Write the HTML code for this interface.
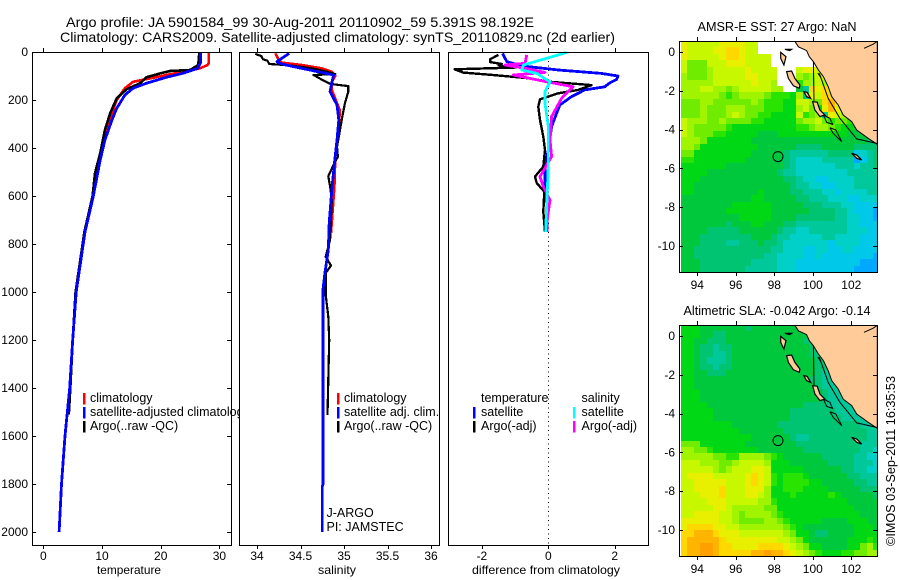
<!DOCTYPE html>
<html>
<head>
<meta charset="utf-8">
<title>Argo profile</title>
<style>
html,body{margin:0;padding:0;background:#fff;}
svg{display:block;}
text{font-family:"Liberation Sans",sans-serif;font-size:12px;fill:#000;}
.crisp{shape-rendering:crispEdges;}
</style>
</head>
<body>
<svg id="chart" width="900" height="580" viewBox="0 0 900 580" xmlns="http://www.w3.org/2000/svg">
  <rect x="0" y="0" width="900" height="580" fill="#fff"/>
  <text x="66" y="27" style="font-size:14px" textLength="468" lengthAdjust="spacingAndGlyphs">Argo profile: JA 5901584_99 30-Aug-2011 20110902_59 5.391S 98.192E</text>
  <text x="60" y="42" style="font-size:14px" textLength="555" lengthAdjust="spacingAndGlyphs">Climatology: CARS2009. Satellite-adjusted climatology: synTS_20110829.nc (2d earlier)</text>
  <g id="p1"></g>
  <g id="p2"></g>
  <g id="p3"></g>
  <g id="m1"></g>
  <g id="m2"></g>
  <text transform="translate(895,546) rotate(-90)" x="0" y="0" style="font-size:13px" textLength="170" lengthAdjust="spacingAndGlyphs">©IMOS 03-Sep-2011 16:35:53</text>
</svg>
<script>
// ---------- profile data (depth in dbar, values in physical units) ----------
const tempClimDepth = [0,46,54,68,79,96,113,124,151,200,255,338,437,562,750];
const tempClimValue = [28.2,28.2,28,26.7,24.4,21,17.6,15.3,13.9,12.5,11.7,10.5,9.7,8.8,7.1];
const tempSatDepth = [0,45,68,88,105,130,151,179,235,283,367,450,603,750,1000,1200,1400,1600,1800,2000];
const tempSatValue = [26.8,26.8,26.3,23.9,21,17.6,15.3,13.9,12.5,11.7,10.5,9.7,8.5,7.1,5.6,5,4.5,3.7,3.1,2.7];
const tempArgoDepth = [4,20,54,75,79,89,105,130,155,193,255,325,422,505,600,750,1000,1200,1400,1510];
const tempArgoValue = [26.6,26.5,26.4,25,21.6,19.9,17.6,16.5,14.2,12.5,11.4,10.5,9.7,8.8,8.4,7,5.5,5,4.6,4.35];

const salClimDepth = [6,33,44,54,68,82,100,124,158,242,338,436,561,658,753];
const salClimValue = [34.21,34.25,34.28,34.51,34.74,34.86,34.9,34.86,34.86,34.95,34.94,34.9,34.89,34.87,34.85];
const salSatDepth = [6,40,50,68,85,96,130,165,221,283,367,464,575,713,825,921,985,1200,1800,1810,2000];
const salSatValue = [34.37,34.23,34.28,34.51,34.74,34.88,34.86,34.84,34.92,34.94,34.92,34.89,34.86,34.83,34.82,34.78,34.76,34.76,34.76,34.75,34.75];
const salArgoDepth = [8,17,31,36,50,55,68,82,92,96,114,133,142,165,214,269,353,394,436,463,517,561,617,783,853,890,921,1012,1103,1200,1512];
const salArgoValue = [33.98,34.05,34.07,34.12,34.14,34.36,34.63,34.8,34.9,34.65,34.74,34.84,35.05,35.05,35.01,34.98,34.94,34.92,34.93,34.89,34.82,34.84,34.86,34.84,34.79,34.85,34.79,34.79,34.82,34.83,34.81];

const diffTempSatDepth = [6,40,58,75,89,100,114,128,145,158,186,221,255,311,408,478,546,617,749];
const diffTempSatValue = [-1.38,-1.25,-0.8,0.3,1.6,2.1,2.06,1.86,1.7,1.1,0.7,0.35,0.25,0.1,0,-0.1,-0.1,-0.05,-0.03];
const diffTempArgoDepth = [12,30,42,50,56,62,64,72,86,96,110,124,138,158,172,197,228,283,353,408,478,519,546,582,665,749];
const diffTempArgoValue = [-1.5,-1.75,-1.75,-1.4,-1.5,-1.3,-0.85,-2.82,-2.56,-1.66,-0.55,0.05,1.3,0.9,0.3,-0.25,-0.3,-0.25,-0.15,-0.1,-0.15,-0.4,-0.35,-0.12,-0.15,-0.1];
const diffSalArgoDepth = [12,47,54,68,85,96,120,145,193,269,367,436,519,561,617,713,749];
const diffSalArgoValue = [-0.65,-0.7,-1.3,-0.7,-0.1,-1.05,-0.2,0.75,0.4,0.1,0.05,0.1,-0.25,-0.15,0.05,-0.05,-0.03];
const diffSalSatDepth = [2,54,75,89,124,165,214,311,478,749];
const diffSalSatValue = [0.55,-0.75,-0.8,-0.35,0.05,-0.1,-0.1,0,0,-0.08];

// ---------- tick labels ----------
const depthTicks = [0,200,400,600,800,1000,1200,1400,1600,1800,2000];
const tempTicks = [0,10,20,30];
const salTicks = [34,34.5,35,35.5,36];
const diffTicks = [-2,0,2];
const lonTicks = [94,96,98,100,102];
const latTicks = [0,-2,-4,-6,-8,-10];

// ---------- heatmap data: colour-scale level per grid cell (null = no data) ----------
const n = null;
const sstLevels = [
[11,10,10,10,10,10,11,11,11,11,10,10],
[11,10,10,10,10,11,11,12,12,11,10,10],
[11,10,10,10,10,10,11,12,12,11,10,10,10,10],
[10,8,8,8,10,10,10,11,11,11,10,10,10,10],
[10,8,8,8,9,10,10,10,10,10,11,10,10,10,10,n,n,n,10,11,11,10],
[9,8,8,8,9,10,10,10,10,10,11,11,10,10,10,n,n,n,9,8,9,10,10],
[9,9,9,9,9,10,10,10,10,10,10,11,10,10,9,n,n,n,7,9,9,10,9,9],
[9,9,9,10,10,9,9,8,9,10,10,10,10,10,9,9,n,n,5,3,12,11,12,11,10],
[9,9,9,9,9,9,8,7,8,9,9,9,9,8,7,7,7,6,9,4,11,10,12,12,10,9],
[8,8,8,9,9,8,8,8,8,8,8,9,8,7,7,7,6,6,10,10,9,8,12,13,11,9,8],
[8,8,8,9,8,8,8,9,9,9,8,8,8,7,7,7,6,6,9,10,8,6,11,13,11,9,8,8],
[8,8,8,9,8,8,8,9,10,9,8,8,7,7,6,6,6,6,10,7,8,9,3,11,10,9,8,8],
[10,9,9,9,8,8,9,8,8,8,8,7,7,6,6,6,6,6,8,9,9,10,8,7,8,8,7,6],
[10,9,8,8,8,8,8,7,6,6,6,6,6,6,6,6,6,6,7,7,8,9,9,8,7,6,6,5,5],
[10,9,8,8,8,7,7,6,6,6,6,6,5,5,5,6,6,6,6,6,6,6,6,6,6,6,5,5,5,5],
[9,9,9,8,6,6,6,6,6,6,6,5,5,5,5,5,5,5,5,5,5,5,5,5,5,5,5,5,5,4,5],
[9,9,8,6,6,6,6,6,6,6,6,6,5,5,5,5,5,5,4,4,4,4,5,5,5,5,5,4,4,4,4],
[8,8,6,6,6,6,6,6,6,6,6,5,5,5,5,5,4,3,3,3,3,3,3,4,4,4,4,1,2,3,4],
[7,7,6,6,6,6,6,6,6,6,5,5,5,5,5,5,4,3,2,2,2,2,3,3,3,3,3,0,1,3,4],
[6,6,6,6,6,6,6,5,5,5,5,5,5,5,5,5,4,3,2,2,2,2,2,2,3,3,3,2,3,3,4],
[6,6,6,6,5,5,5,5,5,5,5,5,5,5,5,4,3,3,2,2,2,2,2,2,2,2,3,3,3,3,3],
[6,6,6,5,5,5,5,5,5,5,5,5,5,5,5,5,4,4,3,2,2,1,1,2,2,2,2,3,3,3,3],
[6,6,5,5,5,5,5,5,5,5,5,5,5,5,5,5,5,4,3,3,2,2,1,1,2,2,2,3,3,3,3],
[6,6,5,5,5,5,5,5,5,5,5,5,6,5,5,5,5,4,4,3,3,3,2,2,1,2,2,2,2,3,3],
[5,5,5,5,5,5,5,5,5,5,5,6,6,5,5,5,5,5,4,4,3,3,3,2,2,2,1,1,2,2,2],
[5,5,5,5,5,5,5,5,6,6,6,6,6,6,5,5,5,5,5,4,4,4,3,3,3,2,2,1,1,1,1],
[5,5,5,5,5,5,5,6,6,6,6,6,6,6,5,5,5,5,5,5,4,4,4,4,3,3,2,1,1,1,0],
[5,5,5,5,5,5,5,5,5,6,6,6,6,6,5,5,5,5,4,4,4,4,4,4,3,3,2,2,1,1,0],
[5,5,5,5,5,5,5,4,5,5,5,6,6,5,5,5,4,4,3,3,3,3,3,3,3,3,2,2,1,1,1],
[5,5,5,5,4,4,4,4,4,5,5,5,5,5,5,4,3,3,2,2,3,3,3,3,3,3,2,2,2,1,1],
[5,5,5,4,4,4,4,4,4,4,4,5,5,5,4,3,3,2,2,2,2,2,3,3,2,2,2,2,1,1,1],
[5,5,5,4,4,4,4,3,3,4,4,4,5,4,4,3,2,2,2,2,2,2,2,1,2,2,2,2,1,1,1],
[5,5,4,4,4,4,4,4,4,4,4,4,4,4,3,3,2,2,2,1,1,2,2,1,1,2,2,1,1,1,1],
[5,5,4,4,4,4,4,4,4,4,4,4,4,3,3,2,2,2,2,1,1,2,1,1,1,1,1,1,1,1,0],
[5,5,5,4,4,4,4,4,4,4,4,3,3,3,3,2,2,2,1,1,1,1,1,1,1,1,1,1,0,0,0],
[5,5,5,4,4,4,4,4,4,4,3,3,3,3,3,2,2,2,1,1,1,1,1,1,1,1,1,0,0,0,0]
];
const slaLevels = [
[6,6,6,5,5,5,5,5,5,5,4,5,5,5,5,5,5,5,5,5],
[6,6,6,5,5,4,4,5,5,5,5,5,5,5,5,5,5,5,5,5,5],
[6,6,5,5,4,4,4,5,5,5,5,5,5,5,5,5,5,5,5,4,4,4],
[6,6,5,4,4,3,4,4,5,5,5,5,5,5,5,5,5,5,5,5,4,4,4],
[6,6,5,4,4,3,3,4,5,5,5,5,5,5,5,5,5,5,5,5,4,4,4],
[6,6,5,4,3,3,3,4,5,5,5,5,5,5,5,5,5,5,5,5,5,4,4,3],
[6,6,5,4,4,3,4,4,5,5,5,5,5,5,5,5,5,5,5,5,5,4,4,3,3],
[6,6,5,5,4,4,4,5,5,5,5,5,5,5,5,5,5,5,5,5,5,4,3,3,3],
[6,6,5,5,5,5,5,5,5,5,5,5,5,5,5,5,5,5,5,5,4,4,3,3,3],
[6,6,5,5,5,5,5,5,5,5,5,5,5,5,5,5,5,5,5,5,5,4,3,3,3,3],
[6,6,6,5,5,5,5,5,5,5,5,5,5,5,5,5,5,5,5,5,5,5,4,3,3,3],
[6,6,6,5,5,5,5,5,5,5,5,5,5,5,5,5,5,5,5,5,5,5,4,3,3,3,3],
[6,6,6,6,5,5,5,5,5,5,5,5,5,5,5,5,5,5,5,4,4,4,4,3,3,3,3,3],
[6,6,6,6,6,5,5,5,5,5,5,5,5,5,5,5,5,4,4,4,4,4,4,4,3,3,3,3,3],
[6,6,6,6,6,5,5,5,5,5,5,5,5,5,5,5,5,4,4,4,4,4,4,4,4,3,3,3,3,3],
[6,6,6,6,6,6,6,6,5,5,5,5,5,5,5,4,4,4,4,4,4,4,4,4,4,4,4,4,3,3,3],
[6,6,6,6,6,6,6,6,6,5,5,5,5,5,5,5,4,4,4,4,4,4,4,4,4,4,4,4,4,3,3],
[6,6,6,6,6,6,6,6,6,6,6,5,5,5,5,5,5,4,3,3,4,4,4,4,4,4,4,4,4,3,3],
[8,8,8,6,6,6,6,6,6,6,5,5,5,5,5,5,5,5,4,4,4,4,4,4,4,4,4,4,3,3,3],
[9,9,8,8,7,6,6,6,6,6,6,6,5,5,5,5,5,5,5,4,4,4,4,4,4,4,4,4,3,3,2],
[9,9,9,9,9,8,8,7,7,9,9,9,9,8,7,6,5,5,5,5,5,5,4,4,4,4,4,3,3,2,2],
[10,10,10,9,9,9,8,8,9,10,10,10,10,9,6,6,6,5,5,5,5,5,5,4,4,4,4,3,3,3,2],
[10,10,10,10,10,9,8,9,10,10,10,11,11,10,6,6,6,6,6,5,5,5,5,5,5,4,4,3,3,2,2],
[10,11,11,11,11,10,10,10,10,10,11,12,11,10,7,6,7,7,7,6,5,5,5,5,5,5,4,4,3,3,3],
[10,10,11,11,11,11,11,10,10,10,11,12,11,10,7,6,7,7,7,7,6,6,5,5,5,5,5,4,4,3,3],
[10,10,11,11,11,11,12,10,10,10,11,11,11,9,6,6,7,7,7,6,6,6,6,5,5,5,5,5,4,4,4],
[10,10,10,11,11,11,12,10,10,10,11,11,10,9,6,6,6,7,6,6,6,6,6,7,6,5,5,5,5,5,4],
[10,10,10,10,11,11,11,10,10,10,10,10,9,9,7,6,6,6,6,6,6,6,6,6,6,6,5,5,5,5,5],
[10,10,10,10,10,11,11,10,9,9,9,9,9,8,8,6,6,6,6,6,6,6,6,6,6,6,6,5,5,5,5],
[10,10,11,11,11,11,10,10,9,8,9,9,9,9,8,7,6,6,6,6,6,6,6,6,6,6,6,6,5,5,5],
[11,11,11,11,11,11,10,10,9,8,8,8,8,9,9,8,7,6,6,6,6,6,5,5,5,5,6,6,6,5,5],
[11,12,12,12,12,11,11,10,10,9,9,9,9,9,9,9,8,7,6,5,5,5,5,5,5,5,5,6,6,6,5],
[12,12,13,13,13,12,11,11,11,10,10,10,10,10,10,10,9,8,6,6,5,4,4,5,5,5,5,6,6,6,6],
[12,13,13,13,13,13,12,11,11,11,11,11,11,11,11,10,10,9,8,6,5,5,5,5,5,5,6,6,6,7,6],
[12,13,13,14,14,13,12,12,11,11,11,11,12,12,12,12,11,10,9,8,6,6,5,5,5,5,6,6,8,9,7],
[12,13,13,14,14,13,12,12,12,12,12,13,13,14,13,13,12,11,10,9,8,7,6,6,6,7,7,8,8,9,9]
];
const levelColors = ['#00a8ff','#00c8e8','#00d0c8','#00c89a','#00c472','#00c83c','#00d816','#28e400','#70ec00','#a0f400','#c8f800','#e8f000','#ffd800','#ffb400','#ffa000'];

// ---------- geography (lon, lat) ----------
const landLon = [99.07,99.25,99.68,99.82,100.03,100.29,100.55,100.8,100.98,101.32,101.58,102.02,102.28,102.88,103.35,103.35];
const landLat = [0.55,0.27,0.07,-0.24,-0.5,-0.93,-1.27,-1.79,-2.3,-2.73,-3.25,-3.59,-4.02,-4.45,-4.76,0.55];
const islandLons = [
  [98.64,98.9,99.07,99.33,99.3,98.99,98.73],
  [98.33,98.61,98.5,98.33],
  [98.55,98.9,98.8],
  [99.54,99.71,99.89,99.68],
  [99.99,100.23,100.37,100.63,100.37,100.11],
  [102.02,102.28,102.54,102.28]
];
const islandLats = [
  [-1.01,-0.98,-1.36,-1.7,-1.87,-1.74,-1.36],
  [-0.02,-0.24,-0.67,-0.33],
  [0.14,0.14,0.07],
  [-2.04,-2.08,-2.39,-2.3],
  [-2.56,-2.59,-2.99,-3.25,-3.33,-2.99],
  [-5.22,-5.31,-5.57,-5.48]
];
const outlineLons = [
  [100.55,100.89,101.03,100.72,100.55],
  [100.89,101.2,101.5,101.06,100.89],
  [100.03,100.06],
  [100.34,100.8,101.41,102.28,103.32],
  [102.66,103.14,103.32],
  [100.26,100.42]
];
const outlineLats = [
  [-3.25,-3.42,-3.73,-3.63,-3.25],
  [-3.9,-4.02,-4.62,-4.19,-3.9],
  [-0.5,-2.53],
  [-1.1,-2.39,-3.42,-4.48,-4.71],
  [0.19,0.4,0.53],
  [-1.08,-1.32]
];
const profileLon = 98.192;
const profileLat = -5.391;

// ---------- helpers ----------
const NS = 'http://www.w3.org/2000/svg';
function mk(parent, tag, attrs, content) {
  const el = document.createElementNS(NS, tag);
  for (const k in attrs) el.setAttribute(k, attrs[k]);
  if (content !== undefined) el.textContent = content;
  parent.appendChild(el);
  return el;
}
const depthY = d => 52 + 0.24 * d;
const tempX = v => 43.3 + 5.87 * v;
const salX = v => 257 + 87 * (v - 34);
const diffX = v => 548.3 + 33.2 * v;

function polyPoints(xs, ys, fx, fy) {
  return xs.map((v, i) => fx(v).toFixed(1) + ',' + fy(ys[i]).toFixed(1)).join(' ');
}
function drawProfile(parent, name, values, depths, fx, color, width) {
  const el = mk(parent, 'polyline', {points: polyPoints(values, depths, fx, depthY), fill: 'none', stroke: color, 'stroke-width': width, 'stroke-linejoin': 'round', class: 'crisp'});
  
  
}
function drawFrame(parent, x0, y0, x1, y1) {
  const el = mk(parent, 'rect', {x: x0 + 0.5, y: y0 + 0.5, width: x1 - x0, height: y1 - y0, fill: 'none', stroke: '#000', 'stroke-width': 1, class: 'crisp'});
  
  
}
function drawBackground(parent, x0, y0, x1, y1) {
  const el = mk(parent, 'rect', {x: x0, y: y0, width: x1 - x0, height: y1 - y0, fill: '#fff'});
  
  
}
function tick(parent, x1, y1, x2, y2) {
  const el = mk(parent, 'line', {x1: x1, y1: y1, x2: x2, y2: y2, stroke: '#000', 'stroke-width': 1, class: 'crisp'});
  
  
}
function xAxis(parent, ticks, fx, y0, y1, baseline) {
  ticks.forEach(t => {
    const x = Math.round(fx(t)) + 0.5;
    tick(parent, x, y0, x, y0 + 4);
    tick(parent, x, y1, x, y1 - 4);
    const el = mk(parent, 'text', {x: fx(t), y: baseline, 'text-anchor': 'middle'}, String(t));
    
    
  });
}
function yAxis(parent, ticks, fy, x0, x1, labelX) {
  ticks.forEach(t => {
    const y = Math.round(fy(t)) + 0.5;
    tick(parent, x0, y, x0 + 4, y);
    tick(parent, x1, y, x1 - 4, y);
    const el = mk(parent, 'text', {x: labelX, y: fy(t) + 4, 'text-anchor': 'end'}, String(t));
    
    
  });
}
function axisTitle(parent, cx, label, len) {
  const el = mk(parent, 'text', {x: cx, y: 574, 'text-anchor': 'middle', textLength: len, lengthAdjust: 'spacingAndGlyphs'}, label);
  
  
}
function legendEntry(parent, markerX, textX, baseline, color, label) {
  if (color) {
    const bar = mk(parent, 'rect', {x: markerX, y: baseline - 9, width: 2.6, height: 11.5, fill: color, class: 'crisp'});
    
    
  }
  const el = mk(parent, 'text', {x: textX, y: baseline, style: 'font-size:12.5px'}, label);
  
  
}

// ---------- temperature panel ----------
const p1 = document.getElementById('p1');
drawBackground(p1, 32, 52, 231, 545);
drawProfile(p1, 'temperature-climatology-line', tempClimValue, tempClimDepth, tempX, '#ff0000', 2.6);
drawProfile(p1, 'temperature-argo-line', tempArgoValue, tempArgoDepth, tempX, '#000000', 2.6);
drawProfile(p1, 'temperature-satellite-line', tempSatValue, tempSatDepth, tempX, '#0000ff', 2.8);
xAxis(p1, tempTicks, tempX, 545, 52, 560);
yAxis(p1, depthTicks, depthY, 32, 231, 28);
axisTitle(p1, 129, 'temperature', 64);
legendEntry(p1, 83, 90, 402, '#ff0000', 'climatology');
legendEntry(p1, 83, 90, 416, '#0000ff', 'satellite-adjusted climatology');
legendEntry(p1, 83, 90, 430, '#000000', 'Argo(..raw -QC)');
drawFrame(p1, 32, 52, 231, 545);

// ---------- salinity panel ----------
const p2 = document.getElementById('p2');
drawBackground(p2, 239, 52, 450, 546);
drawProfile(p2, 'salinity-climatology-line', salClimValue, salClimDepth, salX, '#ff0000', 2.6);
drawProfile(p2, 'salinity-argo-line', salArgoValue, salArgoDepth, salX, '#000000', 2.2);
drawProfile(p2, 'salinity-satellite-line', salSatValue, salSatDepth, salX, '#0000ff', 2.8);
xAxis(p2, salTicks, salX, 545, 52, 560);
axisTitle(p2, 337, 'salinity', 38);
legendEntry(p2, 337, 344, 402, '#ff0000', 'climatology');
legendEntry(p2, 337, 344, 416, '#0000ff', 'satellite adj. clim.');
legendEntry(p2, 337, 344, 430, '#000000', 'Argo(..raw -QC)');
const jargo = mk(p2, 'text', {x: 326.5, y: 517, style: 'font-size:12.5px'}, 'J-ARGO');


const piLabel = mk(p2, 'text', {x: 326.5, y: 531, style: 'font-size:12.5px'}, 'PI: JAMSTEC');


drawFrame(p2, 239, 52, 439, 545);

// ---------- difference panel ----------
const p3 = document.getElementById('p3');
drawBackground(p3, 448, 52, 648, 545);
const zeroLine = mk(p3, 'line', {x1: diffX(0), y1: 52, x2: diffX(0), y2: 545, stroke: '#000', 'stroke-width': 1, 'stroke-dasharray': '1 3.5', class: 'crisp'});


drawProfile(p3, 'diff-temperature-satellite-line', diffTempSatValue, diffTempSatDepth, diffX, '#0000ff', 2.8);
drawProfile(p3, 'diff-temperature-argo-line', diffTempArgoValue, diffTempArgoDepth, diffX, '#000000', 2.4);
drawProfile(p3, 'diff-salinity-argo-line', diffSalArgoValue, diffSalArgoDepth, diffX, '#ff00ff', 2.8);
drawProfile(p3, 'diff-salinity-satellite-line', diffSalSatValue, diffSalSatDepth, diffX, '#00ffff', 2.8);
xAxis(p3, diffTicks, diffX, 545, 52, 560);
axisTitle(p3, 546, 'difference from climatology', 148);
legendEntry(p3, 0, 481, 402, null, 'temperature');
legendEntry(p3, 473, 481, 416, '#0000ff', 'satellite');
legendEntry(p3, 473, 481, 430, '#000000', 'Argo(-adj)');
legendEntry(p3, 0, 581.5, 402, null, 'salinity');
legendEntry(p3, 573, 581.5, 416, '#00ffff', 'satellite');
legendEntry(p3, 573, 581.5, 430, '#ff00ff', 'Argo(-adj)');
drawFrame(p3, 448, 52, 648, 545);

// ---------- maps ----------
function drawMap(id, top, levels, titleText, titleWidth, cellName) {
  const g = document.getElementById(id);
  const left = 680, right = 877, bottom = top + 231.4;
  const lonX = lon => 697.3 + (lon - 94) * 19.25;
  const latY = lat => top + 11 - lat * 19.4;
  const clipId = id + '-clip';
  const defs = mk(g, 'defs', {});
  const clip = mk(defs, 'clipPath', {id: clipId});
  mk(clip, 'rect', {x: left, y: top, width: right - left, height: bottom - top});
  const inner = mk(g, 'g', {'clip-path': 'url(#' + clipId + ')'});
  
  
  levels.forEach((row, r) => {
    row.forEach((lv, c) => {
      if (lv === null) return;
      const x0 = Math.round(left + 1 + 6.4 * c);
      const x1 = Math.round(left + 1 + 6.4 * (c + 1));
      const y0 = Math.round(top + 6.42 * r);
      const y1 = Math.round(top + 6.42 * (r + 1));
      const cell = mk(inner, 'rect', {x: x0, y: y0, width: x1 - x0, height: y1 - y0, fill: levelColors[lv], class: 'crisp'});
      
      
    });
  });
  const land = mk(inner, 'polygon', {points: polyPoints(landLon, landLat, lonX, latY), fill: '#ffcc99', stroke: '#000', 'stroke-width': 1});
  
  
  islandLons.forEach((lons, i) => {
    const isl = mk(inner, 'polygon', {points: polyPoints(lons, islandLats[i], lonX, latY), fill: '#ffcc99', stroke: '#000', 'stroke-width': 1.2});
    
    
  });
  outlineLons.forEach((lons, i) => {
    const ol = mk(inner, 'polyline', {points: polyPoints(lons, outlineLats[i], lonX, latY), fill: 'none', stroke: '#000', 'stroke-width': 1});
    
    
  });
  const marker = mk(inner, 'circle', {cx: lonX(profileLon), cy: latY(profileLat), r: 5, fill: 'none', stroke: '#000', 'stroke-width': 1});
  
  
  xAxis(g, lonTicks, lonX, Math.round(bottom), top, Math.round(bottom) + 17);
  yAxis(g, latTicks, latY, left - 1, right, 675);
  const title = mk(g, 'text', {x: 777, y: top - 10, 'text-anchor': 'middle', style: 'font-size:13px', textLength: titleWidth, lengthAdjust: 'spacingAndGlyphs'}, titleText);
  
  
  drawFrame(g, left - 1, top, right, Math.round(bottom));
}
drawMap('m1', 41, sstLevels, 'AMSR-E SST: 27 Argo: NaN', 159, 'sst-cell');
drawMap('m2', 325, slaLevels, 'Altimetric SLA: -0.042 Argo: -0.14', 187, 'sla-cell');
</script>
</body>
</html>
